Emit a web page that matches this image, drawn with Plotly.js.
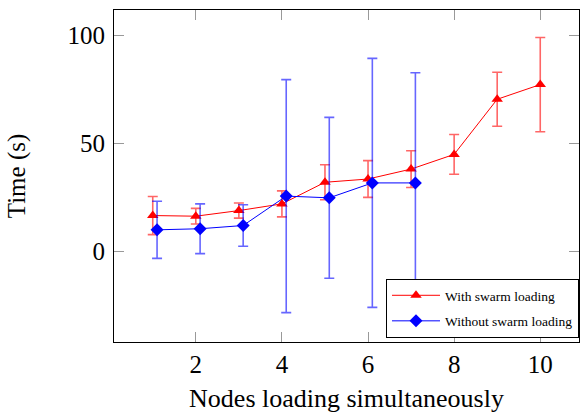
<!DOCTYPE html>
<html>
<head>
<meta charset="utf-8">
<script src="https://cdn.plot.ly/plotly-3.0.1.min.js"></script>
<style>html,body{margin:0;padding:0;background:#fff;}#chart{width:584px;height:415px;}</style>
</head>
<body>
<div id="chart"></div>
<script>
// Data
const nodesWith = [1, 2, 3, 4, 5, 6, 7, 8, 9, 10];
const timeWith = [16.7, 16.4, 19.0, 22.1, 32.1, 33.6, 38.2, 45.0, 70.5, 77.3];
const errWith = [8.8, 3.6, 3.5, 6.0, 8.1, 8.5, 8.5, 9.2, 12.5, 21.8];

const nodesWithout = [1, 2, 3, 4, 5, 6, 7];
const timeWithout = [10.1, 10.6, 12.1, 25.7, 24.9, 31.8, 31.8];
const errWithout = [13.2, 11.5, 9.6, 53.9, 37.2, 57.6, 51.0];

const xTicks = [2, 4, 6, 8, 10];
const yTicks = [0, 50, 100];

const shift = 0.1; // horizontal shift of the second series, as in the reference
const serif = "Liberation Serif, Times New Roman, serif";

const traces = [
  {
    x: nodesWith, y: timeWith, name: "With swarm loading",
    type: "scatter", mode: "lines+markers", legendgroup: "a",
    line: {color: "#ff0000", width: 1},
    marker: {symbol: "triangle-up", size: 10, color: "#ff0000"},
    error_y: {type: "data", array: errWith, visible: true, color: "rgba(255,0,0,0.6)", thickness: 1.6, width: 5}
  },
  {
    x: nodesWithout.map(v => v + shift), y: timeWithout, name: "Without swarm loading",
    type: "scatter", mode: "lines+markers", legendgroup: "b",
    line: {color: "#0000ff", width: 1},
    marker: {symbol: "diamond", size: 10, color: "#0000ff"},
    error_y: {type: "data", array: errWithout, visible: true, color: "rgba(0,0,255,0.6)", thickness: 1.6, width: 5}
  }
];

const axisCommon = {
  showline: true, linecolor: "#000", linewidth: 1, mirror: "ticks",
  ticks: "inside", ticklen: 10, tickcolor: "#999", tickwidth: 1,
  showgrid: false, zeroline: false,
  tickfont: {family: serif, size: 25, color: "#000"}
};

const layout = {
  width: 584, height: 415,
  margin: {l: 114, r: 5, t: 10, b: 73},
  paper_bgcolor: "#fff", plot_bgcolor: "#fff",
  font: {family: serif, color: "#000"},
  showlegend: true,
  xaxis: Object.assign({}, axisCommon, {
    range: [0.1, 10.9], tickvals: xTicks, ticktext: xTicks.map(String),
    automargin: false,
    title: {text: "Nodes loading simultaneously", font: {family: serif, size: 26, color: "#000"}, standoff: 11}
  }),
  yaxis: Object.assign({}, axisCommon, {
    range: [-41.8, 111.8], tickvals: yTicks, ticktext: yTicks.map(String),
    automargin: false, ticklabelstandoff: 3,
    title: {text: "Time (s)", font: {family: serif, size: 25, color: "#000"}, standoff: 34}
  }),
  legend: {
    x: 1, xanchor: "right", y: 0.012, yanchor: "bottom",
    bgcolor: "#fff", bordercolor: "#000", borderwidth: 1,
    font: {family: serif, size: 13.5, color: "#000"},
    itemwidth: 48,
    traceorder: "grouped", tracegroupgap: 5
  }
};

Plotly.newPlot("chart", traces, layout, {displayModeBar: false, staticPlot: true});
</script>
</body>
</html>
